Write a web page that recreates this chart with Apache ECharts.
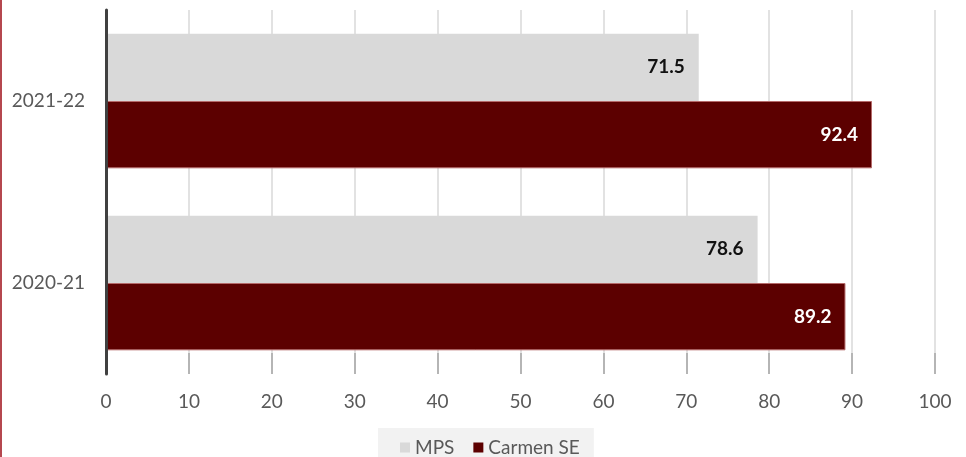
<!DOCTYPE html>
<html>
<head>
<meta charset="utf-8">
<script src="https://cdn.jsdelivr.net/npm/echarts@6/dist/echarts.min.js"></script>
<style>
html,body{margin:0;padding:0;background:#fff;}
#wrap{position:relative;width:966px;height:457px;overflow:hidden;}
#chart{width:966px;height:457px;}
#edge{position:absolute;left:0;top:0;width:2px;height:457px;background:#b5474f;}
</style>
</head>
<body>
<div id="wrap"><div id="chart"></div><div id="edge"></div></div>
<script>
const categories = ['2021-22', '2020-21'];
const seriesNames = ['MPS', 'Carmen SE'];
const mpsValues = [71.5, 78.6];
const carmenValues = [92.4, 89.2];
const xTicks = [0, 10, 20, 30, 40, 50, 60, 70, 80, 90, 100];

const FONT = 'Lato';
const chart = echarts.init(document.getElementById('chart'), null, {renderer: 'canvas'});
chart.setOption({
  animation: false,
  textStyle: {fontFamily: FONT},
  grid: {left: 106, right: 31, top: 10, bottom: 83, containLabel: false},
  legend: {
    data: seriesNames,
    left: 378, top: 428,
    padding: [10, 14, 10, 22],
    backgroundColor: '#f2f2f2',
    icon: 'rect', itemWidth: 10, itemHeight: 10, itemGap: 19,
    itemStyle: {borderWidth: 0},
    textStyle: {fontFamily: FONT, fontSize: 19, color: '#595959'}
  },
  xAxis: {
    type: 'value', min: xTicks[0], max: xTicks[xTicks.length - 1], interval: 10,
    axisLine: {show: false},
    axisTick: {show: true, inside: true, length: 21, lineStyle: {color: '#a6a6a6', width: 1.5}},
    splitLine: {show: true, lineStyle: {color: '#d9d9d9', width: 1.5}},
    axisLabel: {fontFamily: FONT, fontSize: 19, color: '#595959', margin: 18}
  },
  yAxis: {
    type: 'category', data: categories, inverse: true, z: 5,
    axisLine: {show: true, lineStyle: {color: '#404040', width: 3}},
    axisTick: {show: false},
    axisLabel: {fontFamily: FONT, fontSize: 19, color: '#595959', margin: 21}
  },
  series: [
    {
      name: seriesNames[0], type: 'bar', data: mpsValues,
      barGap: '0%', barCategoryGap: '26%',
      itemStyle: {color: '#d9d9d9'},
      label: {show: true, position: 'insideRight', distance: 14, fontFamily: FONT, fontSize: 19, fontWeight: 'bold', color: '#111'}
    },
    {
      name: seriesNames[1], type: 'bar', data: carmenValues,
      barGap: '0%', barCategoryGap: '26%',
      itemStyle: {color: '#5c0000', borderColor: '#b56a6a', borderWidth: 1},
      label: {show: true, position: 'insideRight', distance: 14, fontFamily: FONT, fontSize: 19, fontWeight: 'bold', color: '#fff'}
    }
  ]
});
</script>
</body>
</html>
